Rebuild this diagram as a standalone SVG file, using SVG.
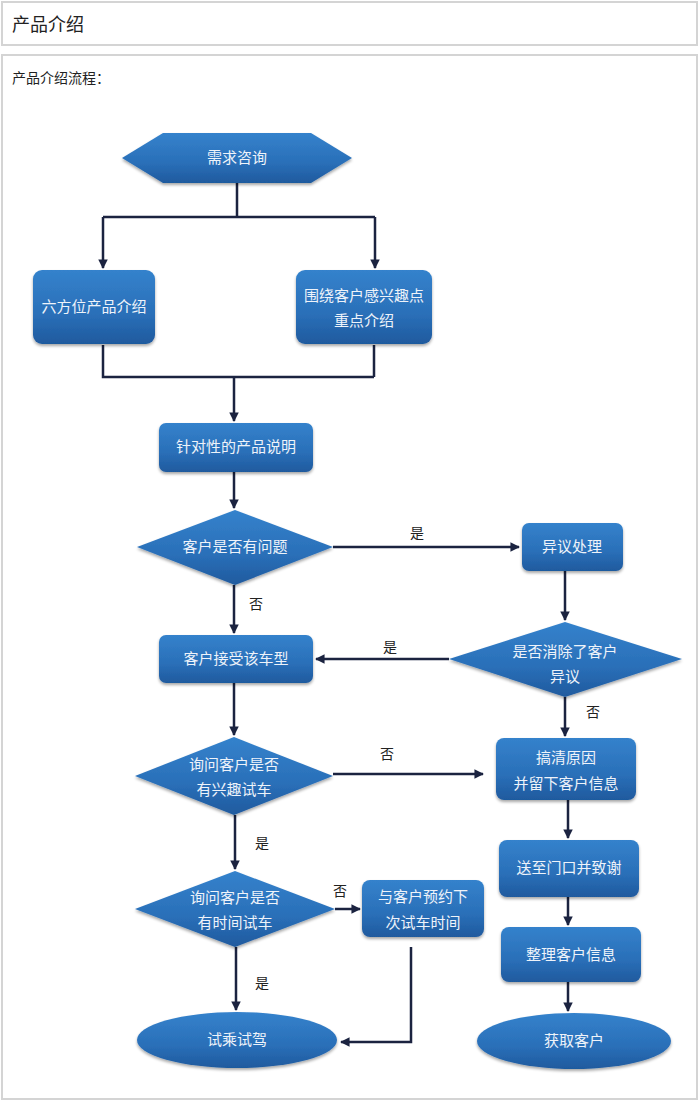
<svg xmlns="http://www.w3.org/2000/svg" width="700" height="1102" viewBox="0 0 700 1102">
<style>
.frame{fill:#fff;stroke:#d4d4d4;stroke-width:2}
.nd{fill:url(#g);filter:url(#sh)}
.t{font-family:"Liberation Serif","Noto Sans CJK SC",serif;font-size:15px;fill:#eef3fa;text-anchor:middle}
.lb{font-family:"Liberation Serif","Noto Sans CJK SC",serif;font-size:14px;fill:#222;text-anchor:middle}
.hd{font-family:"Liberation Serif","Noto Sans CJK SC",serif;fill:#222}
.c{fill:none;stroke:#1b2340;stroke-width:2.5}
</style>
<defs>
<linearGradient id="g" x1="0" y1="0" x2="0" y2="1">
<stop offset="0" stop-color="#3482cc"/>
<stop offset="0.6" stop-color="#2a6fb8"/>
<stop offset="1" stop-color="#1f5a9e"/>
</linearGradient>
<filter id="sh" x="-10%" y="-10%" width="120%" height="130%">
<feGaussianBlur in="SourceAlpha" stdDeviation="1.5"/>
<feOffset dx="0" dy="2" result="b"/>
<feComponentTransfer><feFuncA type="linear" slope="0.35"/></feComponentTransfer>
<feMerge><feMergeNode/><feMergeNode in="SourceGraphic"/></feMerge>
</filter>
<marker id="ah" viewBox="0 0 10 10" refX="9" refY="5" markerWidth="3.8" markerHeight="3.8" orient="auto" markerUnits="strokeWidth">
<path d="M0,0 L10,5 L0,10 z" fill="#1b2340"/>
</marker>
</defs>
<rect class="frame" x="2" y="2" width="695" height="43"/>
<text class="hd" x="12" y="31" font-size="18">产品介绍</text>
<rect class="frame" x="2" y="55" width="695" height="1044"/>
<text class="hd" x="12" y="83" font-size="14">产品介绍流程：</text>

<g id="connectors">
<path class="c" d="M237,183 V217 M103,217 H375"/>
<path class="c" d="M103,217 V268" marker-end="url(#ah)"/>
<path class="c" d="M375,217 V268" marker-end="url(#ah)"/>
<path class="c" d="M103,345 V377 H374 M374,345 V377"/>
<path class="c" d="M234,377 V421" marker-end="url(#ah)"/>
<path class="c" d="M234,472 V508" marker-end="url(#ah)"/>
<path class="c" d="M333,547 H519" marker-end="url(#ah)"/>
<path class="c" d="M565,571 V620" marker-end="url(#ah)"/>
<path class="c" d="M234,585 V633" marker-end="url(#ah)"/>
<path class="c" d="M449,659 H316" marker-end="url(#ah)"/>
<path class="c" d="M565,697 V736" marker-end="url(#ah)"/>
<path class="c" d="M234,683 V735" marker-end="url(#ah)"/>
<path class="c" d="M333,774 H483" marker-end="url(#ah)"/>
<path class="c" d="M568,800 V838" marker-end="url(#ah)"/>
<path class="c" d="M568,897 V925" marker-end="url(#ah)"/>
<path class="c" d="M568,982 V1011" marker-end="url(#ah)"/>
<path class="c" d="M235,815 V869" marker-end="url(#ah)"/>
<path class="c" d="M335,909 H360" marker-end="url(#ah)"/>
<path class="c" d="M236,947 V1010" marker-end="url(#ah)"/>
<path class="c" d="M411,947 V1042 H341" marker-end="url(#ah)"/>
<text class="lb" x="417" y="538">是</text>
<text class="lb" x="256" y="609">否</text>
<text class="lb" x="390" y="652">是</text>
<text class="lb" x="593" y="717">否</text>
<text class="lb" x="387" y="759">否</text>
<text class="lb" x="262" y="848">是</text>
<text class="lb" x="340" y="896">否</text>
<text class="lb" x="262" y="988">是</text>
</g>

<g id="n1"><polygon class="nd" points="122,158 163,133 311,133 352,158 311,183 163,183"/><text class="t" x="237" y="163">需求咨询</text></g>
<g id="n2"><rect class="nd" x="33" y="270" width="122" height="74" rx="9"/><text class="t" x="94" y="312">六方位产品介绍</text></g>
<g id="n3"><rect class="nd" x="296" y="270" width="136" height="74" rx="9"/><text class="t" x="364" y="301">围绕客户感兴趣点</text><text class="t" x="364" y="326">重点介绍</text></g>
<g id="n4"><rect class="nd" x="159" y="423" width="154" height="49" rx="7"/><text class="t" x="236" y="452">针对性的产品说明</text></g>
<g id="n5"><polygon class="nd" points="137,547 235,510 333,547 235,585"/><text class="t" x="235" y="552">客户是否有问题</text></g>
<g id="n6"><rect class="nd" x="522" y="523" width="101" height="48" rx="7"/><text class="t" x="572" y="552">异议处理</text></g>
<g id="n7"><polygon class="nd" points="449,659 565,622 682,659 565,697"/><text class="t" x="565" y="657">是否消除了客户</text><text class="t" x="565" y="682">异议</text></g>
<g id="n8"><rect class="nd" x="159" y="635" width="154" height="48" rx="7"/><text class="t" x="236" y="664">客户接受该车型</text></g>
<g id="n9"><polygon class="nd" points="135,776 234,737 333,776 234,815"/><text class="t" x="234" y="770">询问客户是否</text><text class="t" x="234" y="795">有兴趣试车</text></g>
<g id="n10"><rect class="nd" x="496" y="738" width="140" height="62" rx="8"/><text class="t" x="566" y="763">搞清原因</text><text class="t" x="566" y="789">并留下客户信息</text></g>
<g id="n11"><rect class="nd" x="499" y="840" width="140" height="57" rx="8"/><text class="t" x="569" y="873">送至门口并致谢</text></g>
<g id="n12"><rect class="nd" x="501" y="927" width="140" height="55" rx="8"/><text class="t" x="571" y="960">整理客户信息</text></g>
<g id="n13"><ellipse class="nd" cx="574" cy="1041" rx="97" ry="28"/><text class="t" x="574" y="1046">获取客户</text></g>
<g id="n14"><polygon class="nd" points="135,909 235,871 335,909 235,947"/><text class="t" x="235" y="903">询问客户是否</text><text class="t" x="235" y="928">有时间试车</text></g>
<g id="n15"><rect class="nd" x="362" y="880" width="122" height="57" rx="8"/><text class="t" x="423" y="902">与客户预约下</text><text class="t" x="423" y="928">次试车时间</text></g>
<g id="n16"><ellipse class="nd" cx="237" cy="1040" rx="100" ry="28"/><text class="t" x="237" y="1045">试乘试驾</text></g>
</svg>
